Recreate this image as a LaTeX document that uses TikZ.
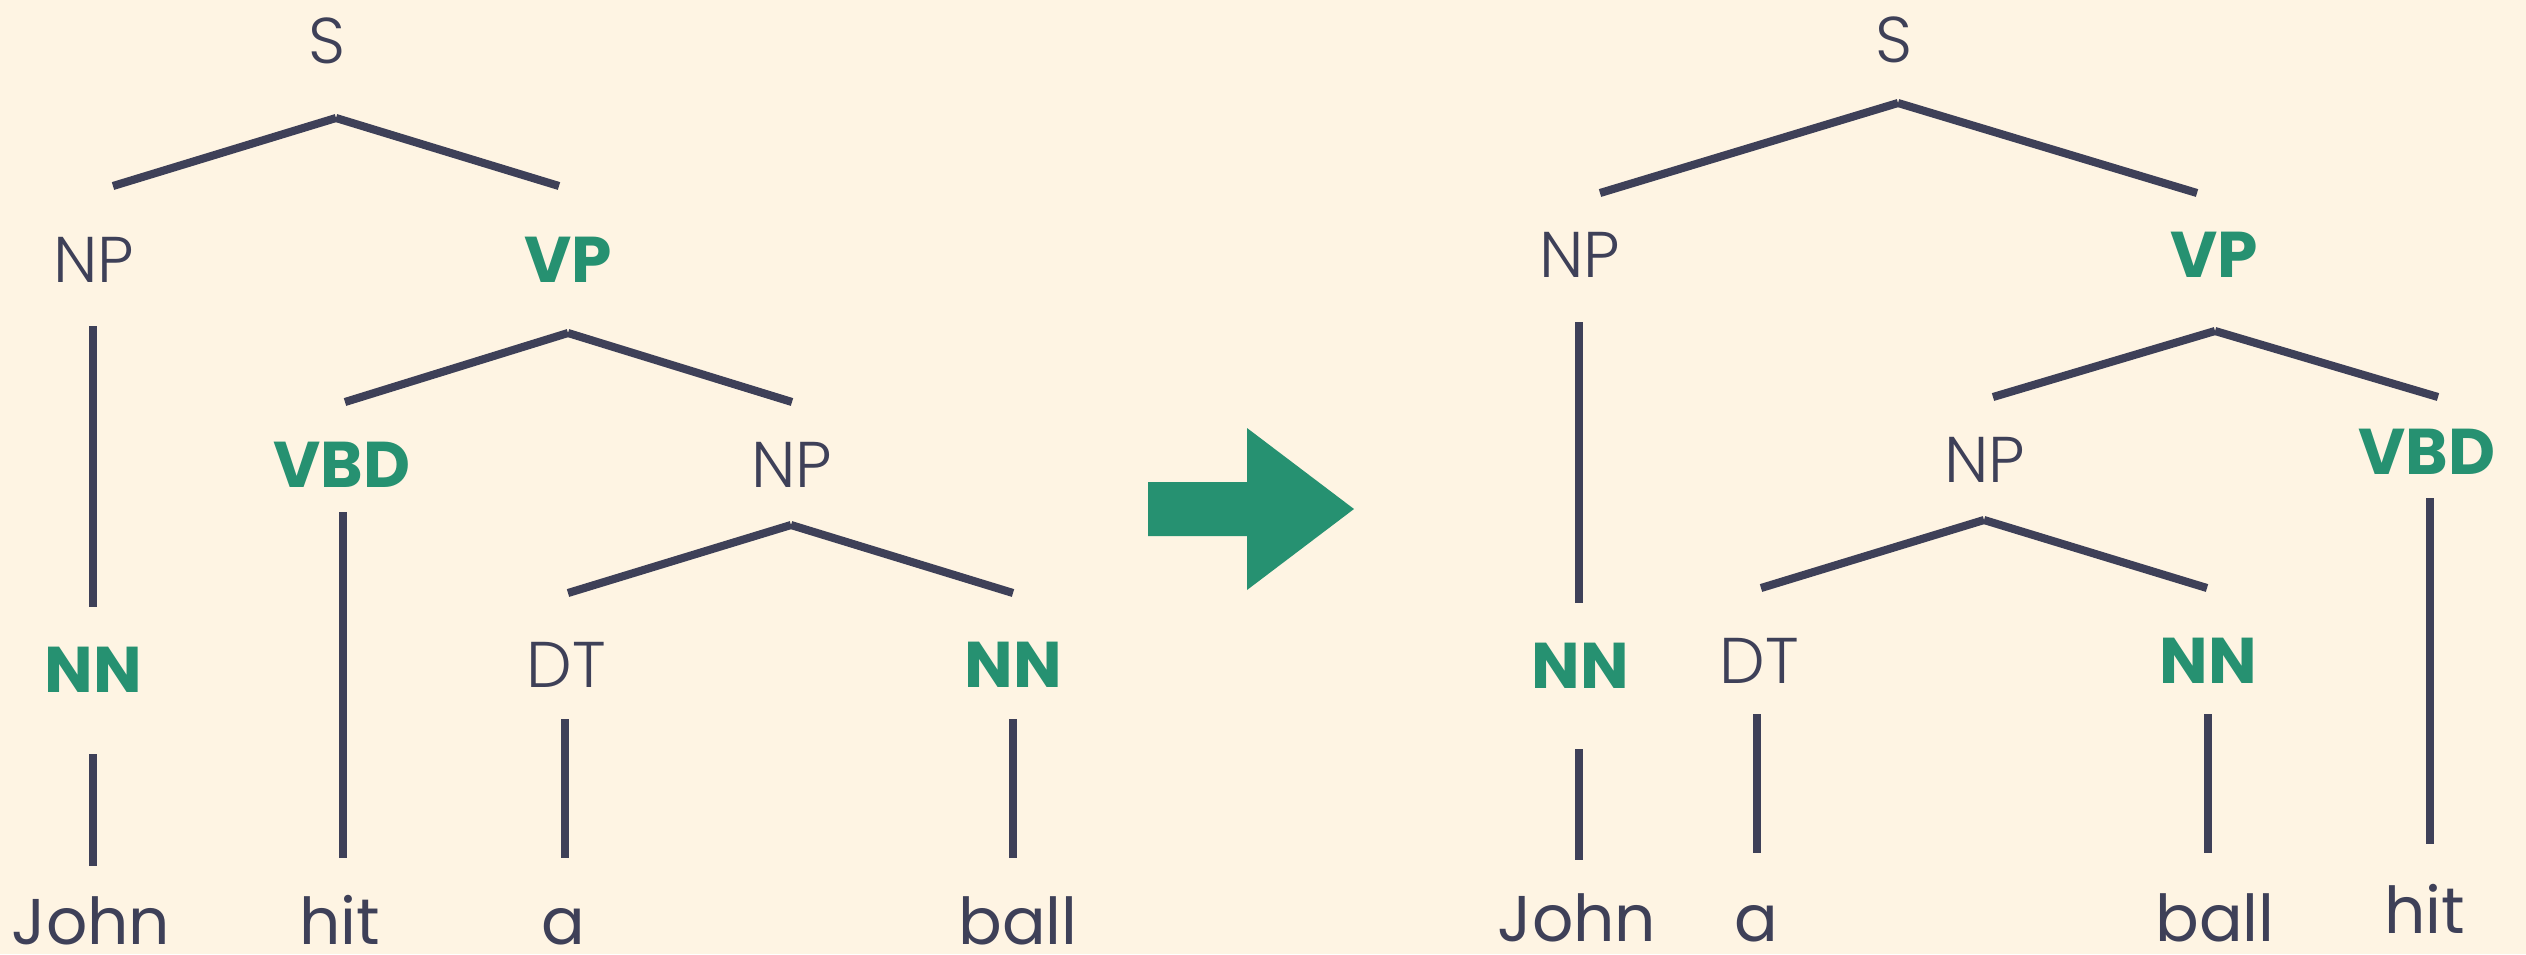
\documentclass[tikz,border=0pt]{standalone}
\usepackage{fontspec}
\setmainfont{Poppins}
\IfFontExistsTF{Poppins Light}{\newfontfamily\thinfont{Poppins Light}}{\newfontfamily\thinfont{Poppins}}

\definecolor{cream}{HTML}{FEF4E3}
\definecolor{ink}{HTML}{3E4058}
\definecolor{leaf}{HTML}{269171}

\begin{document}
\begin{tikzpicture}[x=0.1mm, y=0.1mm,
    every node/.style={inner sep=0pt, anchor=base, text=ink, font=\fontsize{18.4}{22}\selectfont},
    tag/.style={font=\fontsize{18.4}{22}\selectfont\thinfont},
    head/.style={text=leaf, font=\fontsize{18.4}{22}\selectfont\bfseries},
    branch/.style={ink, line width=2.3pt},
    stem/.style={ink, line width=2.1pt}]
    \fill [cream] (0,0) rectangle (2526,-954);
    \useasboundingbox (0,0) rectangle (2526,-954);

    % left tree: S -> NP VP, VP -> VBD NP
    \node [tag] (l-s) at (327,-63) {S};
    \node [tag] (l-np) at (94,-282) {NP};
    \node [head] (l-vp) at (568,-282) {VP};
    \node [head] (l-vbd) at (342,-487) {VBD};
    \node [tag] (l-np2) at (792,-487) {NP};
    \node [head] (l-nn1) at (93,-692) {NN};
    \node [tag] (l-dt) at (566,-687) {DT};
    \node [head] (l-nn2) at (1013,-687) {NN};
    \node (l-john) at (91,-944) {John};
    \node (l-hit) at (340,-944) {hit};
    \node (l-a) at (563,-944) {a};
    \node (l-ball) at (1018,-944) {ball};

    \coordinate (l-s-top) at (336,-118);
    \coordinate (l-s-l) at (113,-186);
    \coordinate (l-s-r) at (559,-186);
    \coordinate (l-vp-top) at (568,-333);
    \coordinate (l-vp-l) at (345,-402);
    \coordinate (l-vp-r) at (792,-402);
    \coordinate (l-np2-top) at (791,-525);
    \coordinate (l-np2-l) at (568,-593);
    \coordinate (l-np2-r) at (1013,-593);
    \coordinate (l-np-bot) at (93,-326);
    \coordinate (l-nn1-top) at (93,-607);
    \coordinate (l-nn1-bot) at (93,-754);
    \coordinate (l-john-top) at (93,-866);
    \coordinate (l-vbd-bot) at (343,-512);
    \coordinate (l-hit-top) at (343,-858);
    \coordinate (l-dt-bot) at (565,-719);
    \coordinate (l-a-top) at (565,-858);
    \coordinate (l-nn2-bot) at (1013,-719);
    \coordinate (l-ball-top) at (1013,-858);

    \draw [branch] (l-s-top) -- (l-s-l);
    \draw [branch] (l-s-top) -- (l-s-r);
    \draw [branch] (l-vp-top) -- (l-vp-l);
    \draw [branch] (l-vp-top) -- (l-vp-r);
    \draw [branch] (l-np2-top) -- (l-np2-l);
    \draw [branch] (l-np2-top) -- (l-np2-r);
    \draw [stem] (l-np-bot) -- (l-nn1-top);
    \draw [stem] (l-nn1-bot) -- (l-john-top);
    \draw [stem] (l-vbd-bot) -- (l-hit-top);
    \draw [stem] (l-dt-bot) -- (l-a-top);
    \draw [stem] (l-nn2-bot) -- (l-ball-top);

    % big arrow in the middle
    \fill [leaf] (1148,-482) -- (1247,-482) -- (1247,-428) -- (1354,-509)
        -- (1247,-590) -- (1247,-536) -- (1148,-536) -- cycle;

    % right tree: S -> NP VP, VP -> NP VBD
    \node [tag] (r-s) at (1894,-62) {S};
    \node [tag] (r-np) at (1580,-277) {NP};
    \node [head] (r-vp) at (2214,-277) {VP};
    \node [tag] (r-np2) at (1985,-482) {NP};
    \node [head] (r-vbd) at (2427,-474) {VBD};
    \node [head] (r-nn1) at (1580,-688) {NN};
    \node [tag] (r-dt) at (1759,-683) {DT};
    \node [head] (r-nn2) at (2208,-683) {NN};
    \node (r-john) at (1577,-941) {John};
    \node (r-a) at (1756,-941) {a};
    \node (r-ball) at (2215,-941) {ball};
    \node (r-hit) at (2425,-933) {hit};

    \coordinate (r-s-top) at (1898,-103);
    \coordinate (r-s-l) at (1600,-193);
    \coordinate (r-s-r) at (2197,-193);
    \coordinate (r-vp-top) at (2215,-331);
    \coordinate (r-vp-l) at (1993,-397);
    \coordinate (r-vp-r) at (2438,-397);
    \coordinate (r-np2-top) at (1984,-520);
    \coordinate (r-np2-l) at (1761,-588);
    \coordinate (r-np2-r) at (2207,-588);
    \coordinate (r-np-bot) at (1579,-322);
    \coordinate (r-nn1-top) at (1579,-603);
    \coordinate (r-nn1-bot) at (1579,-749);
    \coordinate (r-john-top) at (1579,-860);
    \coordinate (r-dt-bot) at (1757,-714);
    \coordinate (r-a-top) at (1757,-853);
    \coordinate (r-nn2-bot) at (2208,-714);
    \coordinate (r-ball-top) at (2208,-853);
    \coordinate (r-vbd-bot) at (2430,-498);
    \coordinate (r-hit-top) at (2430,-844);

    \draw [branch] (r-s-top) -- (r-s-l);
    \draw [branch] (r-s-top) -- (r-s-r);
    \draw [branch] (r-vp-top) -- (r-vp-l);
    \draw [branch] (r-vp-top) -- (r-vp-r);
    \draw [branch] (r-np2-top) -- (r-np2-l);
    \draw [branch] (r-np2-top) -- (r-np2-r);
    \draw [stem] (r-np-bot) -- (r-nn1-top);
    \draw [stem] (r-nn1-bot) -- (r-john-top);
    \draw [stem] (r-dt-bot) -- (r-a-top);
    \draw [stem] (r-nn2-bot) -- (r-ball-top);
    \draw [stem] (r-vbd-bot) -- (r-hit-top);
\end{tikzpicture}
\end{document}
